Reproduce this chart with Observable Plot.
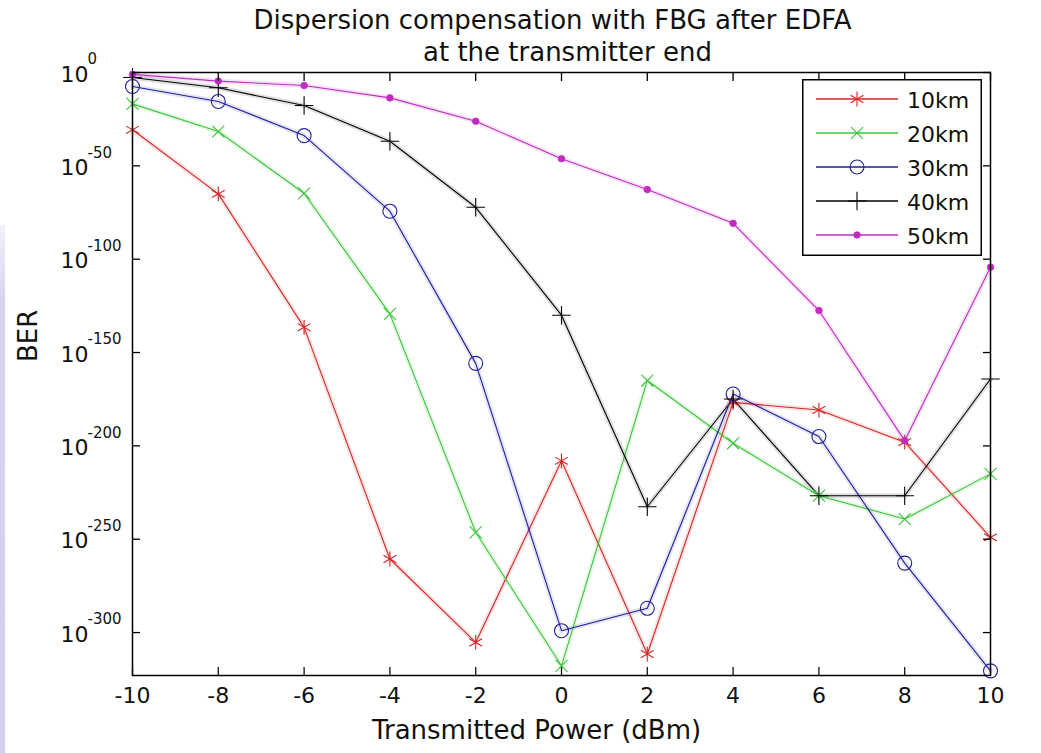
<!DOCTYPE html>
<html><head><meta charset="utf-8">
<script src="https://cdn.jsdelivr.net/npm/d3@7"></script>
<script src="https://cdn.jsdelivr.net/npm/@observablehq/plot@0.6"></script>
<style>
body{margin:0;background:#fff;}
#wrap{position:relative;width:1041px;height:753px;overflow:hidden;font-family:"DejaVu Sans",sans-serif;background:#fff;}
#strip{position:absolute;left:0;top:225px;width:5px;height:528px;background:linear-gradient(#f1f0fa,#d6d3ef 15%,#d3d0ee);}
#chart{position:absolute;left:0;top:0;}
#legend{position:absolute;left:802px;top:79px;}
</style></head><body><div id="wrap"><div id="strip"></div><div id="chart"></div><div id="legend"></div></div>
<script>
// Transmitted power (dBm)
const power = [-10, -8, -6, -4, -2, 0, 2, 4, 6, 8, 10];
const series = ["10km", "20km", "30km", "40km", "50km"];
// BER given as log10 exponent (BER = 10^value)
const ber10km = [-30.7, -65, -136.5, -260.6, -305.3, -208, -311.5, -176.7, -180.8, -198, -249];
const ber20km = [-16.8, -31.6, -64.7, -129.3, -246.3, -317.8, -165, -198.6, -226.7, -239.2, -215];
const ber30km = [-7.5, -15.5, -33.8, -74.3, -155.8, -299, -287, -172.2, -195, -262.8, -320.5];
const ber40km = [-2.7, -8.2, -17.7, -36.8, -72.2, -130, -232.6, -174.9, -226.7, -226.7, -164.2];
const ber50km = [-1, -4.6, -7, -13.6, -26.1, -46.2, -62.7, -80.8, -127.5, -197.2, -104.3];
const xTicks = [-10, -8, -6, -4, -2, 0, 2, 4, 6, 8, 10];
const yTicks = [0, -50, -100, -150, -200, -250, -300];
const yDomain = [-323, 0];
const colors = ["#d42626", "#3cc43c", "#1e1e9c", "#000000", "#c02cc0"];
const symbols = ["asterisk", "times", "circle", "plus", "circle"];
const symbolR = [7, 5.5, 7, 6, 3.3];
const titleLines = ["Dispersion compensation with FBG after EDFA", "at the transmitter end"];
const xLabel = "Transmitted Power (dBm)";
const yLabel = "BER";

const values = [ber10km, ber20km, ber30km, ber40km, ber50km];
const rows = [];
series.forEach((s, i) => power.forEach((p, j) => rows.push({series: s, power: p, exp: values[i][j]})));

const font = "DejaVu Sans, sans-serif";
const marks = [];
// soft halo like the original
marks.push(Plot.line(rows, {x: "power", y: "exp", z: "series", stroke: "series", strokeWidth: 5, strokeOpacity: 0.12}));
marks.push(Plot.line(rows, {x: "power", y: "exp", z: "series", stroke: "series", strokeWidth: 1.1}));
series.forEach((s, i) => {
  const d = rows.filter(r => r.series === s);
  if (i === 4) {
    marks.push(Plot.dot(d, {x: "power", y: "exp", r: symbolR[i], fill: colors[i], stroke: colors[i], strokeWidth: 0.8}));
  } else {
    marks.push(Plot.dot(d, {x: "power", y: "exp", r: symbolR[i], symbol: () => symbols[i], stroke: colors[i], strokeWidth: 1.1, fill: "none"}));
  }
});
marks.push(Plot.frame({stroke: "#000", strokeWidth: 1.5}));
marks.push(Plot.axisX({anchor: "bottom", ticks: xTicks, tickSize: -8, tickPadding: 20, tickFormat: d => String(d), fontSize: 22, label: null, strokeWidth: 1.3, color: "#111"}));
marks.push(Plot.axisX({anchor: "top", ticks: xTicks, tickSize: -8, tickFormat: () => "", label: null, strokeWidth: 1.3}));
marks.push(Plot.axisY({anchor: "left", ticks: yTicks, tickSize: -8, tickFormat: () => "", label: null, strokeWidth: 1.3}));
marks.push(Plot.axisY({anchor: "right", ticks: yTicks, tickSize: -8, tickFormat: () => "", label: null, strokeWidth: 1.3}));
// y tick labels 10^n
marks.push(Plot.text(yTicks, {y: d => d, text: () => "10", frameAnchor: "left", textAnchor: "start", dx: -72, dy: 2, fontSize: 22, fill: "#111"}));
marks.push(Plot.text(yTicks, {y: d => d, text: d => String(d), frameAnchor: "left", textAnchor: "start", dx: -45, dy: -13, fontSize: 15, fill: "#111"}));
// axis labels and title
marks.push(Plot.text([xLabel], {frameAnchor: "bottom", dx: -25, dy: 55, fontSize: 26, lineAnchor: "middle", fill: "#111"}));
marks.push(Plot.text([yLabel], {frameAnchor: "left", dx: -104, dy: -12, rotate: -90, fontSize: 26, lineAnchor: "middle", fill: "#111"}));
marks.push(Plot.text([titleLines[0]], {frameAnchor: "top", dx: -9, dy: -44, fontSize: 26, lineAnchor: "bottom", fill: "#111"}));
marks.push(Plot.text([titleLines[1]], {frameAnchor: "top", dx: 6, dy: -12, fontSize: 26, lineAnchor: "bottom", fill: "#111"}));

const chart = Plot.plot({
  width: 1041, height: 753,
  marginLeft: 132, marginRight: 51, marginTop: 72, marginBottom: 78,
  style: {fontFamily: font, background: "transparent", overflow: "visible"},
  x: {domain: [-10, 10], axis: null},
  y: {domain: yDomain, axis: null},
  color: {domain: series, range: colors},
  marks
});
document.getElementById("chart").appendChild(chart);

// legend
const lw = 180, lh = 177;
const svg = d3.create("svg").attr("width", lw).attr("height", lh).style("font-family", font);
svg.append("rect").attr("x", 0.75).attr("y", 0.75).attr("width", lw - 1.5).attr("height", lh - 1.5).attr("fill", "#fff").attr("stroke", "#000").attr("stroke-width", 1.5);
const symMap = {asterisk: d3.symbolAsterisk, times: d3.symbolTimes, circle: d3.symbolCircle, plus: d3.symbolPlus};
series.forEach((s, i) => {
  const y = 20 + i * 34;
  const g = svg.append("g");
  g.append("line").attr("x1", 14).attr("x2", 96).attr("y1", y).attr("y2", y).attr("stroke", colors[i]).attr("stroke-width", 1.3);
  const r = symbolR[i];
  const path = d3.symbol(symMap[symbols[i]], Math.PI * r * r)();
  if (i === 4) {
    g.append("path").attr("d", path).attr("transform", `translate(55,${y})`).attr("fill", colors[i]).attr("stroke", colors[i]).attr("stroke-width", 0.8);
  } else {
    g.append("path").attr("d", path).attr("transform", `translate(55,${y})`).attr("fill", "none").attr("stroke", colors[i]).attr("stroke-width", 1.1);
  }
  g.append("text").attr("x", 105).attr("y", y + 1).attr("dy", "0.35em").attr("font-size", 22).attr("fill", "#111").text(s);
});
document.getElementById("legend").appendChild(svg.node());
</script></body></html>
